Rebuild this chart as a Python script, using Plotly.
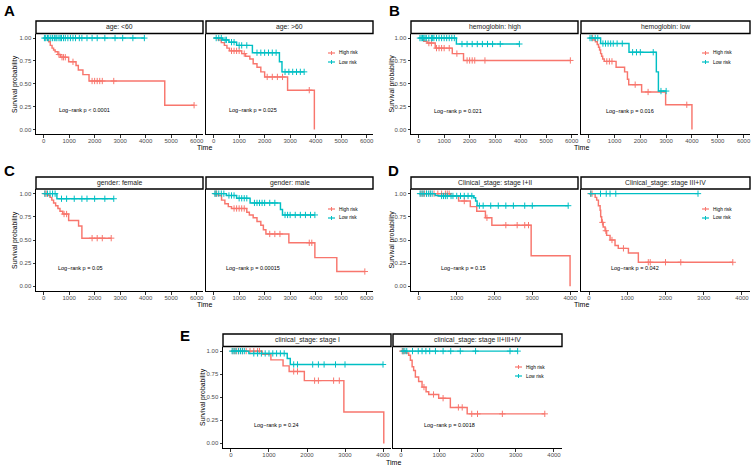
import plotly.graph_objects as go

W, H = 753, 469
RED = "#F8766D"
BLUE = "#00BFC4"
FONT = "Liberation Sans, Arial, sans-serif"

# ---------------- data ----------------
# Each curve: event times (T), survival after each event (S), censor times (C)
A1_HIGH_T = [140, 200, 260, 330, 390, 450, 560, 660, 980, 1270, 1360, 1540, 1780, 4750]
A1_HIGH_S = [0.98, 0.96, 0.92, 0.89, 0.87, 0.85, 0.82, 0.79, 0.74, 0.70, 0.65, 0.60, 0.53, 0.265]
A1_HIGH_C = [600, 720, 780, 850, 1150, 1900, 2000, 2100, 2200, 2300, 2750, 5900]
A1_LOW_T = []
A1_LOW_S = []
A1_LOW_C = [30, 80, 150, 200, 280, 350, 420, 480, 520, 600, 650, 700, 780, 850, 950, 1050,
            1150, 1250, 1400, 1500, 1700, 1900, 2100, 2400, 2800, 3100, 3500, 3950]

A2_HIGH_T = [180, 300, 420, 520, 620, 1100, 1250, 1420, 1550, 1700, 1850, 2000, 2900, 3950]
A2_HIGH_S = [0.98, 0.95, 0.92, 0.89, 0.86, 0.83, 0.80, 0.77, 0.72, 0.68, 0.63, 0.575, 0.43, 0.0]
A2_HIGH_C = [700, 800, 900, 1000, 1200, 2100, 2300, 2500, 2700, 3750]
A2_LOW_T = [350, 600, 900, 1520, 2580, 2680]
A2_LOW_S = [0.98, 0.955, 0.92, 0.84, 0.74, 0.63]
A2_LOW_C = [100, 200, 300, 450, 500, 700, 800, 1000, 1100, 1300, 1700, 1850, 2000, 2150,
            2300, 2450, 2800, 2950, 3100, 3250, 3400, 3550]

B1_HIGH_T = [200, 330, 650, 1320, 1760]
B1_HIGH_S = [0.965, 0.945, 0.89, 0.83, 0.755]
B1_HIGH_C = [400, 500, 700, 800, 900, 1000, 1200, 1500, 1900, 2000, 2100, 2200, 2600, 5950]
B1_LOW_T = [1480]
B1_LOW_S = [0.935]
B1_LOW_C = [50, 100, 150, 200, 250, 300, 400, 500, 550, 600, 700, 800, 900, 1000, 1100, 1200,
            1300, 1400, 1700, 1900, 2100, 2300, 2500, 2700, 2900, 3200, 3950]

B2_HIGH_T = [200, 260, 330, 380, 420, 460, 500, 540, 600, 1060, 1390, 1500, 1550, 2050, 2980, 4000]
B2_HIGH_S = [0.98, 0.96, 0.93, 0.90, 0.87, 0.83, 0.80, 0.77, 0.745, 0.68, 0.63, 0.55, 0.49, 0.41, 0.27, 0.0]
B2_HIGH_C = [150, 700, 800, 900, 1800, 2300, 3800]
B2_LOW_T = [460, 1560, 2620, 2700]
B2_LOW_S = [0.94, 0.845, 0.63, 0.42]
B2_LOW_C = [50, 120, 250, 350, 550, 650, 750, 850, 950, 1100, 1300, 1700, 1850, 2000, 2500, 2800, 3000]

C1_HIGH_T = [180, 250, 320, 390, 470, 560, 640, 750, 980, 1370, 1500]
C1_HIGH_S = [0.98, 0.96, 0.93, 0.90, 0.87, 0.84, 0.81, 0.78, 0.71, 0.65, 0.52]
C1_HIGH_C = [50, 100, 800, 900, 1900, 2100, 2300, 2650]
C1_LOW_T = [520]
C1_LOW_S = [0.945]
C1_LOW_C = [50, 150, 250, 350, 450, 700, 900, 1200, 1500, 1700, 2000, 2400, 2750]

C2_HIGH_T = [180, 310, 440, 575, 700, 1300, 1400, 1550, 1700, 1850, 1950, 2050, 2950, 3970, 4830]
C2_HIGH_S = [0.98, 0.93, 0.89, 0.86, 0.84, 0.80, 0.77, 0.74, 0.70, 0.66, 0.61, 0.565, 0.47, 0.31, 0.16]
C2_HIGH_C = [60, 120, 800, 900, 1000, 1100, 1200, 2200, 2400, 2600, 3750, 3850, 5930]
C2_LOW_T = [500, 900, 1430, 2620, 2700]
C2_LOW_S = [0.98, 0.95, 0.90, 0.83, 0.77]
C2_LOW_C = [50, 100, 200, 300, 400, 600, 700, 800, 1000, 1100, 1200, 1300, 1600, 1700, 1800,
            1900, 2000, 2200, 2400, 2800, 2900, 3000, 3200, 3400, 3600, 3800, 3970]

D1_HIGH_T = [830, 1050, 1360, 1530, 1760, 1930, 2970, 4000]
D1_HIGH_S = [0.975, 0.92, 0.86, 0.81, 0.74, 0.66, 0.33, 0.0]
D1_HIGH_C = [50, 100, 150, 200, 300, 400, 500, 600, 700, 750, 800, 1200, 1800, 2300, 2600, 2800, 2900]
D1_LOW_T = [430, 520, 1450, 1500, 1540]
D1_LOW_S = [0.98, 0.975, 0.955, 0.92, 0.87]
D1_LOW_C = [30, 80, 130, 200, 250, 300, 350, 600, 650, 700, 750, 850, 900, 1000, 1100, 1200,
            1300, 1400, 1600, 1700, 1900, 2100, 2300, 2500, 2800, 3000, 3950]

D2_HIGH_T = [160, 200, 245, 290, 305, 330, 370, 420, 460, 550, 680, 765, 1030, 1290]
D2_HIGH_S = [0.96, 0.93, 0.87, 0.82, 0.75, 0.69, 0.64, 0.60, 0.55, 0.50, 0.44, 0.41, 0.36, 0.26]
D2_HIGH_C = [40, 80, 350, 440, 600, 900, 1550, 1600, 2000, 2400, 3760]
D2_LOW_T = []
D2_LOW_S = []
D2_LOW_C = [50, 300, 450, 550, 700, 2850]

E1_HIGH_T = [820, 1050, 1370, 1530, 1930, 2970, 4020]
E1_HIGH_S = [0.965, 0.905, 0.84, 0.78, 0.68, 0.34, 0.0]
E1_HIGH_C = [50, 100, 150, 200, 300, 400, 500, 600, 700, 750, 1650, 1750, 2200, 2300, 2700, 2850]
E1_LOW_T = [470, 1480, 1560]
E1_LOW_S = [0.975, 0.92, 0.855]
E1_LOW_C = [30, 80, 130, 200, 250, 300, 350, 600, 700, 800, 900, 1000, 1100, 1200, 1300, 1400,
            1650, 1750, 2150, 2300, 2450, 2750, 3000, 4000]

E2_HIGH_T = [110, 200, 245, 290, 330, 375, 460, 550, 655, 725, 985, 1290, 1730]
E2_HIGH_S = [0.98, 0.955, 0.90, 0.83, 0.79, 0.72, 0.67, 0.61, 0.56, 0.53, 0.49, 0.39, 0.32]
E2_HIGH_C = [30, 60, 600, 850, 1100, 1500, 1600, 1850, 2000, 2650, 3760]
E2_LOW_T = []
E2_LOW_S = []
E2_LOW_C = [50, 100, 150, 300, 450, 550, 650, 750, 900, 1100, 1300, 1550, 1950, 2850, 3050]

STRIP_LABELS = ["age: &lt;60", "age: &gt;60", "hemoglobin: high", "hemoglobin: low",
                "gender: female", "gender: male", "Clinical_stage: stage I+II",
                "Clinical_stage: stage III+IV", "clinical_stage: stage I",
                "clinical_stage: stage II+III+IV"]
PVAL_TEXT = ["Log\u2212rank p < 0.0001", "Log\u2212rank p = 0.025", "Log\u2212rank p = 0.021",
             "Log\u2212rank p = 0.016", "Log\u2212rank p = 0.05", "Log\u2212rank p = 0.00015",
             "Log\u2212rank p = 0.15", "Log\u2212rank p = 0.042", "Log\u2212rank p = 0.24",
             "Log\u2212rank p = 0.0018"]
PVAL_X = [1600, 1540, 1530, 1590, 1460, 1555, 1190, 1215, 1185, 1255]
PVAL_Y = [0.21, 0.21, 0.20, 0.20, 0.20, 0.20, 0.20, 0.20, 0.195, 0.20]
GROUPS = ["High risk", "Low risk"]
PANEL_LETTERS = ["A", "B", "C", "D", "E"]
X_TICKS_6K = [0, 1000, 2000, 3000, 4000, 5000, 6000]
X_TICKS_4K = [0, 1000, 2000, 3000, 4000]
Y_TICKS = [0, 0.25, 0.5, 0.75, 1.0]
Y_TICK_TEXT = ["0.00", "0.25", "0.50", "0.75", "1.00"]

CURVES = [
    ((A1_HIGH_T, A1_HIGH_S, A1_HIGH_C), (A1_LOW_T, A1_LOW_S, A1_LOW_C)),
    ((A2_HIGH_T, A2_HIGH_S, A2_HIGH_C), (A2_LOW_T, A2_LOW_S, A2_LOW_C)),
    ((B1_HIGH_T, B1_HIGH_S, B1_HIGH_C), (B1_LOW_T, B1_LOW_S, B1_LOW_C)),
    ((B2_HIGH_T, B2_HIGH_S, B2_HIGH_C), (B2_LOW_T, B2_LOW_S, B2_LOW_C)),
    ((C1_HIGH_T, C1_HIGH_S, C1_HIGH_C), (C1_LOW_T, C1_LOW_S, C1_LOW_C)),
    ((C2_HIGH_T, C2_HIGH_S, C2_HIGH_C), (C2_LOW_T, C2_LOW_S, C2_LOW_C)),
    ((D1_HIGH_T, D1_HIGH_S, D1_HIGH_C), (D1_LOW_T, D1_LOW_S, D1_LOW_C)),
    ((D2_HIGH_T, D2_HIGH_S, D2_HIGH_C), (D2_LOW_T, D2_LOW_S, D2_LOW_C)),
    ((E1_HIGH_T, E1_HIGH_S, E1_HIGH_C), (E1_LOW_T, E1_LOW_S, E1_LOW_C)),
    ((E2_HIGH_T, E2_HIGH_S, E2_HIGH_C), (E2_LOW_T, E2_LOW_S, E2_LOW_C)),
]

# ---------------- layout geometry (pixels) ----------------
# panel boxes: left, right, top, bottom
BOXES = [
    (36, 203, 33.5, 134), (206, 373, 33.5, 134),
    (411, 578, 33.5, 134), (581, 750, 33.5, 134),
    (36, 203, 189, 291), (206, 373, 189, 291),
    (411, 578, 189, 291), (581, 750, 189, 291),
    (223, 391, 346.5, 448), (393, 562, 346.5, 448),
]
STRIP_TOP = [21, 21, 21, 21, 177, 177, 177, 177, 334, 334]
XRANGE_6K = [-300, 6250]
XRANGE_4K = [-210, 4210]
XRANGES = [XRANGE_6K] * 6 + [XRANGE_4K] * 4
XTICKS = [X_TICKS_6K] * 6 + [X_TICKS_4K] * 4

LETTER_POS = [(2, 10.5), (386.5, 10.5), (2, 170.5), (386, 170.5), (178, 335)]
TIME_POS = [(205, 147.5), (581, 147.5), (205, 304), (581, 304), (393, 462)]
YLAB_POS = [(15, 84), (391.5, 84), (15, 240), (391.5, 240), (203, 397)]
LEGEND_POS = [(328, 53), (702, 53), (328, 209), (702, 209), (515, 367)]
LEGEND_DY = 9


def fx(px):
    return px / W


def fy(py):
    return 1 - py / H


def surv_at(T, S, t):
    s = 1.0
    for ti, si in zip(T, S):
        if ti <= t:
            s = si
    return s


fig = go.Figure()
shapes = []
annotations = []

for i, (box, curves) in enumerate(zip(BOXES, CURVES)):
    n = i + 1
    xa = "x" if n == 1 else f"x{n}"
    ya = "y" if n == 1 else f"y{n}"
    for (T, S, C), color, name in zip(curves, [RED, BLUE], GROUPS):
        end = max(T[-1] if T else 0, C[-1] if C else 0)
        xs = [0] + list(T)
        ys = [1.0] + list(S)
        if end > xs[-1]:
            xs.append(end)
            ys.append(ys[-1])
        fig.add_trace(go.Scatter(x=xs, y=ys, mode="lines", line=dict(color=color, width=1.45, shape="hv"),
                                 xaxis=xa, yaxis=ya, showlegend=False, name=name, hoverinfo="skip"))
        cy = [surv_at(T, S, c) for c in C]
        fig.add_trace(go.Scatter(x=C, y=cy, mode="markers",
                                 marker=dict(symbol="cross-thin", size=4.5, line=dict(color=color, width=1)),
                                 xaxis=xa, yaxis=ya, showlegend=False, name=name, hoverinfo="skip"))
    l, r, t, b = box
    first = (i % 2 == 0)
    axkey = "xaxis" if n == 1 else f"xaxis{n}"
    aykey = "yaxis" if n == 1 else f"yaxis{n}"
    fig.layout[axkey] = dict(domain=[fx(l), fx(r)], anchor=ya, range=XRANGES[i], showline=True,
                             linecolor="black", linewidth=1, ticks="outside", ticklen=2.5, tickwidth=1,
                             tickcolor="#333333", tickvals=XTICKS[i], ticklabelstandoff=-2,
                             tickfont=dict(size=6, color="#4D4D4D", family=FONT),
                             showgrid=False, zeroline=False, automargin=False, fixedrange=True)
    fig.layout[aykey] = dict(domain=[fy(b), fy(t)], anchor=xa, range=[-0.05, 1.05], showline=True,
                             linecolor="black", linewidth=1, ticks="outside" if first else "",
                             ticklen=2.5, tickwidth=1, tickcolor="#333333",
                             tickvals=Y_TICKS, ticktext=Y_TICK_TEXT, showticklabels=first,
                             tickfont=dict(size=6, color="#4D4D4D", family=FONT),
                             showgrid=False, zeroline=False, automargin=False, fixedrange=True)
    # strip
    shapes.append(dict(type="rect", xref="paper", yref="paper", x0=fx(l), x1=fx(r),
                       y0=fy(t), y1=fy(STRIP_TOP[i]), line=dict(color="black", width=1.4),
                       fillcolor="white"))
    annotations.append(dict(x=fx((l + r) / 2), y=fy((t + STRIP_TOP[i]) / 2), xref="paper", yref="paper",
                            text=STRIP_LABELS[i], showarrow=False, xanchor="center", yanchor="middle",
                            font=dict(size=6.8, color="#1A1A1A", family=FONT)))
    # p-value
    annotations.append(dict(x=PVAL_X[i], y=PVAL_Y[i], xref=xa, yref=ya, text=PVAL_TEXT[i],
                            showarrow=False, xanchor="center", yanchor="middle",
                            font=dict(size=5.5, color="black", family=FONT)))

for k in range(5):
    lx, ly = LETTER_POS[k]
    annotations.append(dict(x=fx(lx), y=fy(ly), xref="paper", yref="paper", text=f"<b>{PANEL_LETTERS[k]}</b>",
                            showarrow=False, xanchor="left", yanchor="middle",
                            font=dict(size=15, color="black", family=FONT)))
    tx, ty = TIME_POS[k]
    annotations.append(dict(x=fx(tx), y=fy(ty), xref="paper", yref="paper", text="Time",
                            showarrow=False, xanchor="center", yanchor="middle",
                            font=dict(size=7, color="black", family=FONT)))
    yx, yy = YLAB_POS[k]
    annotations.append(dict(x=fx(yx), y=fy(yy), xref="paper", yref="paper", text="Survival probability",
                            showarrow=False, xanchor="center", yanchor="middle", textangle=-90,
                            font=dict(size=6.8, color="black", family=FONT)))
    gx, gy = LEGEND_POS[k]
    for j, (name, color) in enumerate(zip(GROUPS, [RED, BLUE])):
        yy_ = gy + j * LEGEND_DY
        shapes.append(dict(type="line", xref="paper", yref="paper", x0=fx(gx), x1=fx(gx + 7),
                           y0=fy(yy_), y1=fy(yy_), line=dict(color=color, width=1.2)))
        shapes.append(dict(type="line", xref="paper", yref="paper", x0=fx(gx + 3.5), x1=fx(gx + 3.5),
                           y0=fy(yy_ - 2), y1=fy(yy_ + 2), line=dict(color=color, width=1)))
        annotations.append(dict(x=fx(gx + 8.5), y=fy(yy_), xref="paper", yref="paper", text=name,
                                showarrow=False, xanchor="left", yanchor="middle",
                                font=dict(size=4.8, color="black", family=FONT)))

fig.update_layout(width=W, height=H, margin=dict(l=0, r=0, t=0, b=0),
                  paper_bgcolor="white", plot_bgcolor="white", shapes=shapes,
                  annotations=annotations, showlegend=False, font=dict(family=FONT))
fig.write_html("out.html", config={"displayModeBar": False},
               post_script="document.body.style.margin='0';document.body.style.overflow='hidden';")
